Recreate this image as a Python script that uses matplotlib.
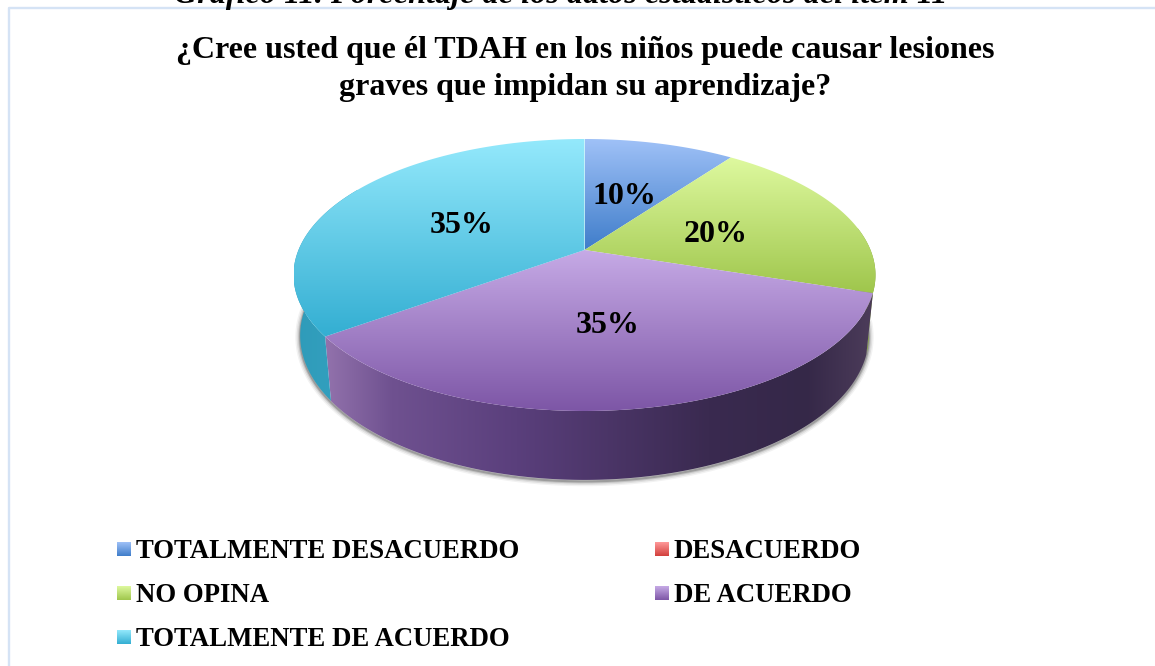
#!/usr/bin/env python

"""Pie chart with a perspective 3D look, drawn in pixel coordinates."""

import numpy as np

import matplotlib as mpl
mpl.use('Agg')
from matplotlib import pyplot as plt
from matplotlib.colors import LinearSegmentedColormap
from matplotlib.patches import Polygon

categories = ['TOTALMENTE DESACUERDO', 'DESACUERDO', 'NO OPINA', 'DE ACUERDO',
              'TOTALMENTE DE ACUERDO']
values = [10, 0, 20, 35, 35]
header = 'Gráfico 11. Porcentaje de los datos estadísticos del ítem 11'
title = ('¿Cree usted que él TDAH en los niños puede causar lesiones\n'
         'graves que impidan su aprendizaje?')

# light, dark colour of each slice (top face)
topColours = [('#9fc1f7', '#3f7dca'), ('#ff9a9a', '#d23f3c'), ('#def99f', '#9fc64c'),
              ('#c6aae6', '#7d56a6'), ('#94e9fc', '#33aed2')]
sideColours = {
    2: [(0., '#8fae44'), (1., '#7d9a3a')],
    3: [(0., '#9272ac'), (0.12, '#6f5190'), (0.35, '#5a3f7c'), (0.7, '#3a2a50'),
        (0.88, '#352848'), (1., '#4c3c5a')],
    4: [(0., '#2f9bb9'), (1., '#35a3c2')],
}

mpl.rc('font', family=['Liberation Serif', 'DejaVu Serif'], weight='bold')

cx, cy = 584.5, 250.
R, H, k = 286., 131.4, 0.1838
lowerR, lowerH, lowerCy = 279.5, 139.5, 309.


def project(deg, r=1., lower=False):
    t = np.radians(deg)
    x, y = r * np.sin(t), r * np.cos(t)
    d = 1 + k * y
    if lower:
        return cx + lowerR * x / d, lowerCy - lowerH * y / d
    return cx + R * x / d, cy - H * y / d


def fill_gradient(axes, pts, cmap, horizontal=False, zorder=2):
    """Fill a polygon with a linear gradient spanning its bounding box."""
    x0, x1 = pts[:, 0].min(), pts[:, 0].max()
    y0, y1 = pts[:, 1].min(), pts[:, 1].max()
    grad = np.linspace(0, 1, 256)
    grad = grad[np.newaxis, :] if horizontal else grad[:, np.newaxis]
    im = axes.imshow(grad, cmap=cmap, extent=(x0, x1, y1, y0), aspect='auto',
                     zorder=zorder, interpolation='bilinear')
    patch = Polygon(pts, closed=True, transform=axes.transData, fc='none', ec='none')
    axes.add_patch(patch)
    im.set_clip_path(patch)


fig = plt.figure(figsize=(11.55, 6.66), dpi=100)
axes = fig.add_axes([0, 0, 1, 1])
axes.axis('off')

edges = np.cumsum([0] + values) * 3.6

# soft shadow under the lower rim
a = np.linspace(95, 300, 300)
sx, sy = project(a, lower=True)
for w, alpha in [(7, 0.05), (5, 0.08), (3, 0.12), (1.5, 0.2)]:
    axes.plot(sx, sy + 1.5, color='black', lw=w, alpha=alpha, zorder=1,
              solid_capstyle='round')

# side walls, back to front
for i in [2, 4, 3]:
    lo, hi = edges[i], edges[i + 1]
    if i == 2:
        lo = 80.
    if i == 4:
        hi = 300.
    a = np.linspace(lo, hi, 200)
    tx, ty = project(a)
    bx, by = project(a, lower=True)
    pts = np.column_stack([np.r_[tx, bx[::-1]], np.r_[ty, by[::-1]]])
    cmap = LinearSegmentedColormap.from_list('side%d' % i, sideColours[i])
    fill_gradient(axes, pts, cmap, horizontal=True, zorder=2 + i * 0.1)

# top faces
for i, v in enumerate(values):
    if v == 0:
        continue
    a = np.linspace(edges[i], edges[i + 1], 200)
    tx, ty = project(a)
    pts = np.column_stack([np.r_[cx, tx], np.r_[cy, ty]])
    cmap = LinearSegmentedColormap.from_list('top%d' % i, topColours[i])
    fill_gradient(axes, pts, cmap, zorder=3)

# percentage labels
for i, v in enumerate(values):
    if v == 0:
        continue
    lx, ly = project((edges[i] + edges[i + 1]) / 2., r=0.5)
    axes.text(lx - 1, ly + 4, '%d%%' % v, ha='center', va='center', fontsize=23,
              color='black', zorder=5)

# legend
legendX = [117, 655, 117, 655, 117]
legendY = [549, 549, 593, 593, 637]
swatch = 14
for i, name in enumerate(categories):
    x0, y0 = legendX[i], legendY[i] - swatch / 2.
    pts = np.array([[x0, y0], [x0 + swatch, y0], [x0 + swatch, y0 + swatch], [x0, y0 + swatch]])
    cmap = LinearSegmentedColormap.from_list('leg%d' % i, topColours[i])
    fill_gradient(axes, pts, cmap, zorder=3)
    axes.text(x0 + swatch + 5, legendY[i], name, ha='left', va='center_baseline',
              fontsize=19.25, color='black', zorder=5)

# chart frame, runs off the right and bottom of the image
axes.plot([9, 9, 1156], [667, 8, 8], color='#d5e3f5', lw=1.7, zorder=0)

axes.text(560.5, 3, header, ha='center', va='baseline', fontsize=23.2, style='italic',
          color='black', zorder=5)
axes.text(585, 69, title, ha='center', va='center', fontsize=23, linespacing=1.36,
          color='black', zorder=5)

axes.set_xlim(0, 1155)
axes.set_ylim(666, 0)

fig.savefig('out.png', dpi=100, facecolor='white')
